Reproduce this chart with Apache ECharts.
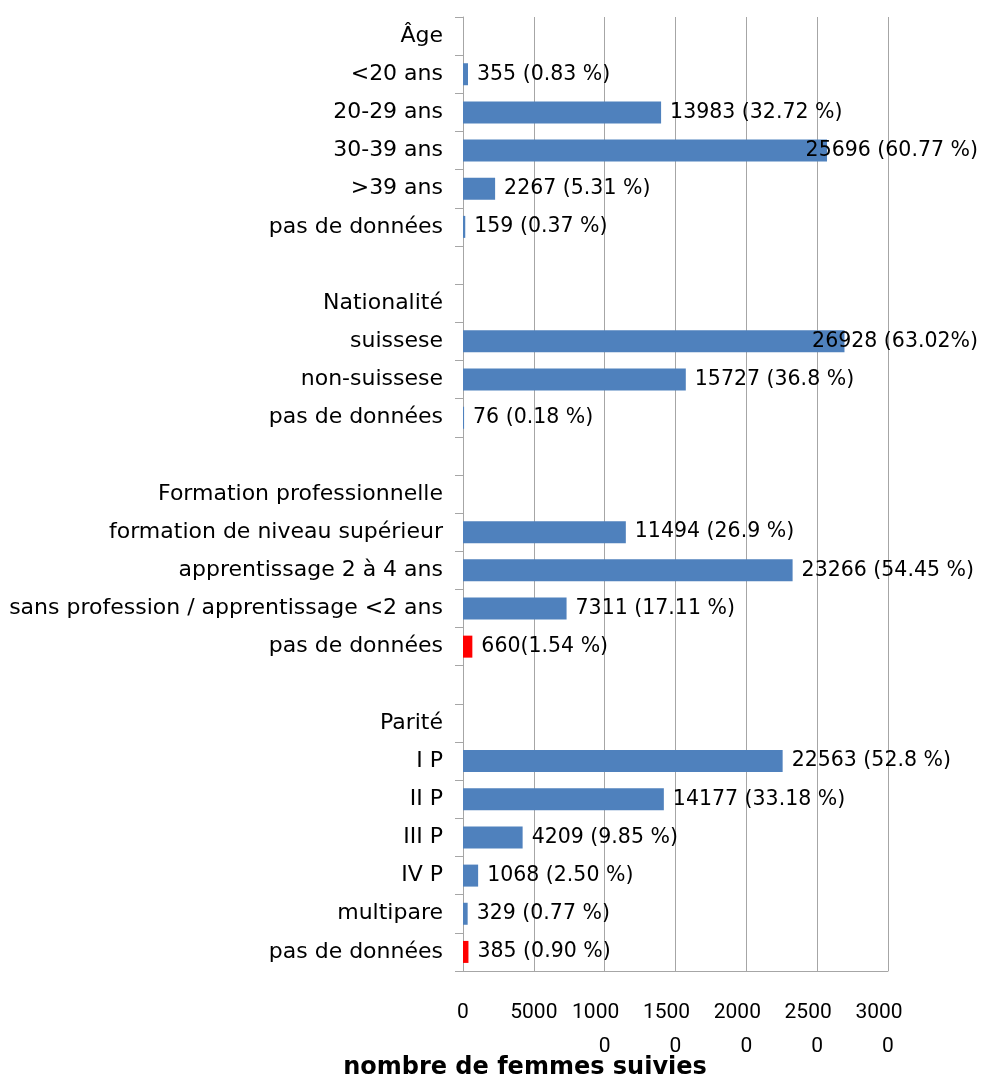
<!DOCTYPE html>
<html>
<head>
<meta charset="utf-8">
<script src="https://cdn.jsdelivr.net/npm/echarts@6/dist/echarts.min.js"></script>
<style>
  html, body { margin: 0; padding: 0; background: #fff; }
  #chart { width: 981px; height: 1081px; }
</style>
</head>
<body>
<div id="chart"></div>
<script>
// Row labels, top to bottom: group headings, their categories and spacer rows
const categories = [
  'Âge', '<20 ans', '20-29 ans', '30-39 ans', '>39 ans', 'pas de données', '',
  'Nationalité', 'suissese', 'non-suissese', 'pas de données', '',
  'Formation professionnelle', 'formation de niveau supérieur', 'apprentissage 2 à 4 ans',
  'sans profession / apprentissage <2 ans', 'pas de données', '',
  'Parité', 'I P', 'II P', 'III P', 'IV P', 'multipare', 'pas de données'
];

// Number of women followed per row (null = heading / spacer)
const counts = [
  null, 355, 13983, 25696, 2267, 159, null,
  null, 26928, 15727, 76, null,
  null, 11494, 23266, 7311, 660, null,
  null, 22563, 14177, 4209, 1068, 329, 385
];

// Text printed next to each bar
const valueLabels = [
  '', '355 (0.83 %)', '13983 (32.72 %)', '25696 (60.77 %)', '2267 (5.31 %)', '159 (0.37 %)', '',
  '', '26928 (63.02%)', '15727 (36.8 %)', '76 (0.18 %)', '',
  '', '11494 (26.9 %)', '23266 (54.45 %)', '7311 (17.11 %)', '660(1.54 %)', '',
  '', '22563 (52.8 %)', '14177 (33.18 %)', '4209 (9.85 %)', '1068 (2.50 %)', '329 (0.77 %)', '385 (0.90 %)'
];

// Horizontal axis tick labels
const xTickValues = [0, 5000, 10000, 15000, 20000, 25000, 30000];
const xTickLabels = ['0', '5000', '10000', '15000', '20000', '25000', '30000'];

const axisTitle = 'nombre de femmes suivies';

// Rows whose bar is drawn in red (missing data on education and parity)
const redRows = [16, 24];

const FONT = 'DejaVu Sans';
const TICK_FONT = 'Roboto';
const BLUE = '#4F81BD';
const RED = '#FF0000';
const GRID_GRAY = '#A6A6A6';
const RIGHT_LIMIT = 978;

const chart = echarts.init(document.getElementById('chart'), null, { renderer: 'canvas' });

const seriesData = counts.map((v, i) => ({
  value: v,
  itemStyle: { color: redRows.includes(i) ? RED : BLUE }
}));

chart.setOption({
  backgroundColor: '#ffffff',
  animation: false,
  grid: { left: 463, right: 93, top: 17, bottom: 110, containLabel: false },
  xAxis: {
    type: 'value',
    min: xTickValues[0],
    max: xTickValues[xTickValues.length - 1],
    interval: xTickValues[1] - xTickValues[0],
    axisLine: { show: true, lineStyle: { color: GRID_GRAY, width: 1 } },
    axisTick: { show: false },
    splitLine: { show: true, lineStyle: { color: GRID_GRAY, width: 1 } },
    axisLabel: {
      margin: 25,
      showMinLabel: true,
      showMaxLabel: true,
      hideOverlap: false,
      fontFamily: TICK_FONT,
      fontSize: 21,
      lineHeight: 34,
      color: '#000',
      rich: {
        // first line of a wrapped label sits slightly left of the tick
        head: { fontFamily: TICK_FONT, fontSize: 21, lineHeight: 34, color: '#000', padding: [0, 18, 0, 0] },
        tail: { fontFamily: TICK_FONT, fontSize: 21, lineHeight: 34, color: '#000' }
      },
      formatter: function (v) {
        const s = xTickLabels[xTickValues.indexOf(v)] || String(v);
        return s.length > 4 ? '{head|' + s.slice(0, 4) + '}\n{tail|' + s.slice(4) + '}' : s;
      }
    }
  },
  yAxis: {
    type: 'category',
    inverse: true,
    data: categories,
    axisLine: { show: true, lineStyle: { color: GRID_GRAY, width: 1 } },
    axisTick: { show: true, length: 8, alignWithLabel: false, lineStyle: { color: GRID_GRAY } },
    splitLine: { show: false },
    axisLabel: {
      margin: 20,
      fontFamily: FONT,
      fontSize: 22,
      color: '#000',
      interval: 0
    }
  },
  series: [{
    type: 'bar',
    data: seriesData,
    barWidth: 22,
    label: {
      show: true,
      position: 'right',
      distance: 9,
      fontFamily: FONT,
      fontSize: 20.5,
      color: '#000',
      formatter: function (p) { return valueLabels[p.dataIndex]; }
    },
    labelLayout: function (params) {
      const r = params.labelRect;
      if (r.x + r.width > RIGHT_LIMIT) {
        return {
          x: RIGHT_LIMIT - r.width,
          y: r.y + r.height / 2,
          align: 'left',
          verticalAlign: 'middle'
        };
      }
      return {};
    }
  }],
  graphic: [{
    type: 'text',
    x: 525,
    y: 1068,
    style: {
      text: axisTitle,
      font: 'bold 24px "' + FONT + '"',
      fill: '#000',
      textAlign: 'center',
      textVerticalAlign: 'middle'
    }
  }]
});
</script>
</body>
</html>
